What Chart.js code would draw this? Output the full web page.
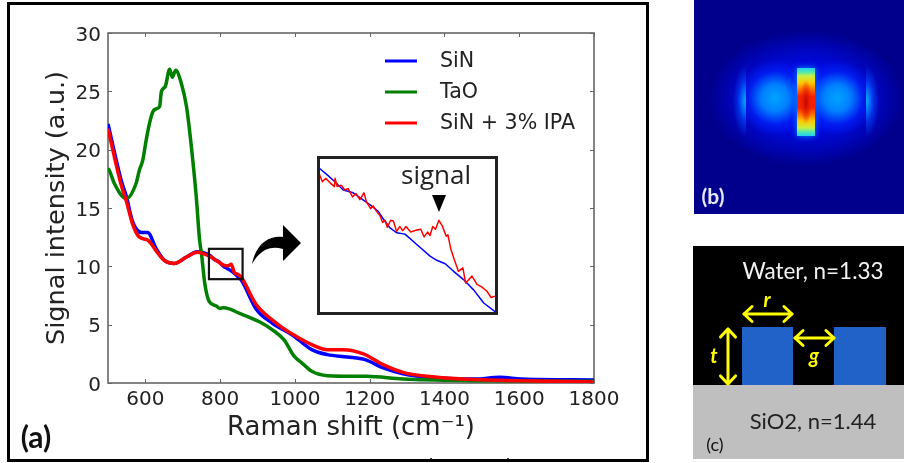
<!DOCTYPE html>
<html lang="en">
<head>
<meta charset="UTF-8">
<title>Raman signal</title>
<script src="https://cdn.jsdelivr.net/npm/chart.js"></script>
<style>
  * { margin:0; padding:0; box-sizing:border-box; }
  body { width:904px; height:463px; background:#fff; position:relative; overflow:hidden; }
  .abs { position:absolute; }
  #frame { left:7px; top:2px; width:642px; height:460px; border:3px solid #000; }
  #insetBox { left:317px; top:156px; width:181px; height:159px; border:3px solid #222; }
  #heat { left:694px; top:0; width:210px; height:214px; background:
    radial-gradient(circle 38px at 81px 98px, #00a4ff 0%, #0080ff 35%, rgba(0,40,255,.6) 70%, rgba(0,30,255,0) 100%),
    radial-gradient(circle 38px at 143px 98px, #00a4ff 0%, #0080ff 35%, rgba(0,40,255,.6) 70%, rgba(0,30,255,0) 100%),
    radial-gradient(ellipse 98px 68px at 112px 98px, #0014f4 0%, #0008dc 50%, #0004b4 78%, rgba(0,0,140,0) 100%),
    #00008c; }
  .sliver { top:66px; width:13px; height:70px; }
  #slivL { left:733px; background:radial-gradient(ellipse 13px 36px at 100% 50%, #00b0ff, rgba(0,80,255,.6) 55%, rgba(0,40,255,0) 100%); }
  #slivR { left:866px; background:radial-gradient(ellipse 13px 36px at 0% 50%, #00b0ff, rgba(0,80,255,.6) 55%, rgba(0,40,255,0) 100%); }
  #bar { left:797px; top:68px; width:18px; height:68px; background:
    radial-gradient(ellipse 6px 22px at 50% 50%, rgba(190,0,0,.85), rgba(230,30,0,.6) 60%, rgba(255,80,0,0) 100%),
    linear-gradient(to bottom, #20d0f0 0%, #50e8b0 6%, #c8f040 12%, #ffc800 22%, #ff7000 32%, #f42000 42%, #f42000 58%, #ff7000 68%, #ffc800 78%, #c8f040 88%, #50e8b0 94%, #20d0f0 100%);
    box-shadow:0 0 6px #0090ff; }
  #overlay { left:0; top:0; }
</style>
</head>
<body>
<div class="abs" id="heat"></div>
<div class="abs sliver" id="slivL"></div>
<div class="abs sliver" id="slivR"></div>
<div class="abs" id="bar"></div>
<canvas class="abs" id="mainChart" width="904" height="463"></canvas>
<canvas class="abs" id="insetChart" style="left:318px;top:157px" width="179" height="157"></canvas>
<div class="abs" id="frame"></div>
<div class="abs" id="insetBox"></div>
<svg class="abs" id="overlay" width="904" height="463" xmlns="http://www.w3.org/2000/svg"></svg>

<script>
// values
const seriesNames = ['SiN', 'TaO', 'SiN + 3% IPA'];
const seriesColors = ['#0000ff', '#007f00', '#ff0000'];

const xTicks = [600, 800, 1000, 1200, 1400, 1600, 1800];
const yTicks = [0, 5, 10, 15, 20, 25, 30];

const sinX = [500, 535, 549, 566, 590, 606, 629, 651, 678, 710, 739, 772.5, 784, 796.6, 809.3, 818.9, 832.4, 845.9, 856.2, 897, 939, 992, 1045, 1087, 1140, 1188, 1236, 1289, 1373, 1480, 1548, 1606, 1800];
const sinY = [22.2, 17.4, 16, 13.8, 12.9, 12.9, 11.5, 10.5, 10.25, 10.8, 11.25, 10.93, 10.61, 10.4, 9.99, 9.82, 9.54, 9.16, 8.84, 6.3, 5.14, 4.14, 2.86, 2.43, 2.23, 2.0, 1.29, 0.8, 0.46, 0.34, 0.49, 0.34, 0.26];

const taoX = [500, 504, 517, 549, 575, 584, 593, 602, 611, 620, 629, 638, 643, 653, 665, 672, 681, 696, 710, 723, 736, 745, 750, 759, 771, 790, 798, 810, 852, 905, 938, 971, 998, 1019, 1045, 1087, 1193, 1289, 1480, 1800];
const taoY = [18.4, 18.2, 17.1, 15.8, 17.1, 18.25, 19.1, 20.8, 22.25, 23.25, 23.5, 23.7, 25, 25.4, 26.9, 26.2, 26.8, 25.7, 23.7, 20.25, 16, 12.25, 11.1, 8.5, 6.97, 6.6, 6.4, 6.45, 5.97, 5.25, 4.6, 3.7, 2.3, 1.7, 1.0, 0.63, 0.57, 0.34, 0.2, 0.14];

const ipaX = [500, 535, 549, 566, 584, 606, 634, 651, 678, 710, 739, 772.5, 784.7, 797, 810.9, 820.8, 829.4, 838.7, 845.1, 856.2, 897, 950, 1003, 1045, 1087, 1130, 1183, 1236, 1289, 1373, 1480, 1800];
const ipaY = [21.8, 17, 15.6, 13.6, 12.5, 12.25, 11.1, 10.5, 10.25, 10.8, 11.2, 10.85, 10.61, 10.34, 10.08, 10.04, 10.17, 9.43, 9.36, 9.07, 6.7, 5.14, 4, 3.29, 2.86, 2.86, 2.5, 1.57, 0.91, 0.51, 0.29, 0.09];

// zoomed part, 772-857 cm-1
const insetXTicks = [780, 790, 800, 810, 820, 830, 840, 850];
const insetYTicks = [9, 9.5, 10, 10.5, 11];

const insetSinX = [772.5, 776.8, 780, 784, 788.7, 791.9, 796.6, 800.6, 803, 806.2, 809.3, 813.3, 818.9, 825.2, 828.4, 832.4, 836.4, 841.1, 845.9, 850.7, 856.2];
const insetSinY = [10.93, 10.82, 10.73, 10.61, 10.57, 10.5, 10.4, 10.3, 10.19, 10.06, 9.99, 9.97, 9.82, 9.65, 9.59, 9.54, 9.43, 9.31, 9.16, 8.97, 8.84];

const insetIpaX = [772.5, 774.1, 775.7, 777.9, 779.8, 780.1, 781.1, 783.1, 784.7, 786.3, 788.4, 790, 791.9, 793.8, 795, 797, 798.2, 799.8, 801.4, 802.7, 803.9, 804.9, 806.5, 807.8, 809.3, 810.9, 812.2, 813.8, 816, 818.9, 820.8, 822.4, 824, 825.2, 826.5, 827.8, 829.4, 831, 832.9, 833.7, 835.1, 836.7, 838.7, 840.8, 842.1, 845.1, 847.5, 849.9, 852.2, 854.2, 856.2];
const insetIpaY = [10.85, 10.73, 10.78, 10.71, 10.66, 10.78, 10.66, 10.68, 10.61, 10.63, 10.51, 10.56, 10.47, 10.57, 10.44, 10.34, 10.38, 10.3, 10.24, 10.14, 10.17, 10.07, 10.17, 10.16, 10.01, 10.08, 10.02, 10.08, 10, 10.03, 10.04, 9.93, 10, 9.95, 10.08, 10.04, 10.17, 10.09, 9.94, 9.96, 9.75, 9.6, 9.43, 9.48, 9.26, 9.36, 9.24, 9.2, 9.14, 9.05, 9.07];

const pairs = (xs, ys) => xs.map((x, i) => ({ x: x, y: ys[i] }));

// matplotlib style box with ticks pointing inward
const boxTicks = {
  id: 'boxTicks',
  beforeDatasetsDraw(chart, args, opts) {
    const { ctx, chartArea: a, scales } = chart;
    const len = opts.len;
    ctx.save();
    ctx.strokeStyle = '#666';
    ctx.lineWidth = 1;
    ctx.beginPath();
    opts.xTicks.forEach(v => {
      const px = Math.round(scales.x.getPixelForValue(v)) + 0.5;
      ctx.moveTo(px, a.top); ctx.lineTo(px, a.top + len);
      ctx.moveTo(px, a.bottom); ctx.lineTo(px, a.bottom - len);
    });
    opts.yTicks.forEach(v => {
      const py = Math.round(scales.y.getPixelForValue(v)) + 0.5;
      ctx.moveTo(a.left, py); ctx.lineTo(a.left + len, py);
      ctx.moveTo(a.right, py); ctx.lineTo(a.right - len, py);
    });
    ctx.stroke();
    if (opts.frame) {
      ctx.lineWidth = 1.6;
      ctx.strokeRect(a.left, a.top, a.right - a.left, a.bottom - a.top);
    }
    ctx.restore();
  }
};

// the black box around the region that is zoomed
const zoomBox = {
  id: 'zoomBox',
  afterDatasetsDraw(chart, args, opts) {
    if (!opts.x) return;
    const { ctx, scales } = chart;
    const x0 = scales.x.getPixelForValue(opts.x[0]), x1 = scales.x.getPixelForValue(opts.x[1]);
    const y0 = scales.y.getPixelForValue(opts.y[1]), y1 = scales.y.getPixelForValue(opts.y[0]);
    ctx.save();
    ctx.strokeStyle = '#111';
    ctx.lineWidth = 2.2;
    ctx.strokeRect(x0, y0, x1 - x0, y1 - y0);
    ctx.restore();
  }
};

// lower order is drawn on top, red has to end up over the others
const line = (label, color, data, width, smooth, order) => ({
  label, data, borderColor: color, borderWidth: width, pointRadius: 0,
  cubicInterpolationMode: smooth ? 'monotone' : 'default', tension: 0,
  borderJoinStyle: 'round', fill: false, order
});

new Chart(document.getElementById('mainChart'), {
  type: 'line',
  data: { datasets: [
    line(seriesNames[0], seriesColors[0], pairs(sinX, sinY), 3.5, true, 2),
    line(seriesNames[1], seriesColors[1], pairs(taoX, taoY), 3.5, true, 1),
    line(seriesNames[2], seriesColors[2], pairs(ipaX, ipaY), 3.5, true, 0)
  ] },
  options: {
    responsive: false, animation: false, parsing: false,
    layout: { padding: { top: 33, right: 310, left: 0, bottom: 0 } },
    plugins: {
      legend: { display: false }, tooltip: { enabled: false },
      boxTicks: { len: 4, frame: true, xTicks: xTicks, yTicks: yTicks },
      zoomBox: { x: [770, 860], y: [8.9, 11.5] }
    },
    scales: {
      x: {
        type: 'linear', min: 500, max: 1800,
        afterFit: s => { s.height = 80; },
        afterBuildTicks: s => { s.ticks = xTicks.map(v => ({ value: v })); },
        grid: { display: false, drawTicks: false }, border: { display: false },
        ticks: { color: '#222', font: { family: 'DejaVu Sans', size: 20 }, padding: 5, maxRotation: 0, autoSkip: false, callback: v => String(v) },
        title: { display: true, text: 'Raman shift (cm\u207B\u00B9)', color: '#222', font: { family: 'DejaVu Sans', size: 26 }, padding: { bottom: 19, top: 0 } }
      },
      y: {
        min: 0, max: 30,
        afterFit: s => { s.width = 108; },
        afterBuildTicks: s => { s.ticks = yTicks.map(v => ({ value: v })); },
        grid: { display: false, drawTicks: false }, border: { display: false },
        // empty first line pushes the number down a bit, it sat too high on the tick
        ticks: { color: '#222', font: { family: 'DejaVu Sans', size: 20, lineHeight: 0.25 }, padding: 7, callback: v => ['', String(v)] },
        title: { display: true, text: 'Signal intensity (a.u.)', color: '#222', font: { family: 'DejaVu Sans', size: 25.6 }, padding: { top: 42, bottom: 0 } }
      }
    }
  },
  plugins: [boxTicks, zoomBox]
});

new Chart(document.getElementById('insetChart'), {
  type: 'line',
  data: { datasets: [
    line(seriesNames[0], seriesColors[0], pairs(insetSinX, insetSinY), 1.5, false, 1),
    line(seriesNames[2], seriesColors[2], pairs(insetIpaX, insetIpaY), 1.5, false, 0)
  ] },
  options: {
    responsive: false, animation: false, parsing: false,
    plugins: {
      legend: { display: false }, tooltip: { enabled: false },
      boxTicks: { len: 2, frame: false, xTicks: insetXTicks, yTicks: insetYTicks }
    },
    scales: {
      x: { type: 'linear', min: 772, max: 857, display: true, afterFit: s => { s.height = 0; }, grid: { display: false }, border: { display: false }, ticks: { display: false } },
      y: { min: 8.81, max: 11.09, display: true, afterFit: s => { s.width = 0; }, grid: { display: false }, border: { display: false }, ticks: { display: false } }
    }
  },
  plugins: [boxTicks]
});

// legend, annotations and panel (c) go in one svg
const NS = 'http://www.w3.org/2000/svg';
const svg = document.getElementById('overlay');
function add(tag, attrs, text) {
  const el = document.createElementNS(NS, tag);
  Object.keys(attrs).forEach(k => el.setAttribute(k, attrs[k]));
  if (text) el.textContent = text;
  svg.appendChild(el);
}
function label(x, y, text, o) {
  add('text', Object.assign({ x, y, 'dominant-baseline': 'middle', 'text-anchor': 'middle', 'font-family': 'Lato', fill: '#222', 'font-size': 22 }, o || {}), text);
}
function yellowArrow(x1, y1, x2, y2) {
  add('line', { x1, y1, x2, y2, stroke: '#ffff00', 'stroke-width': 3 });
  const ang = Math.atan2(y2 - y1, x2 - x1);
  [[x1, y1, ang], [x2, y2, ang + Math.PI]].forEach(p => {
    [0.75, -0.75].forEach(d => {
      add('line', { x1: p[0], y1: p[1], x2: p[0] + 11 * Math.cos(p[2] + d), y2: p[1] + 11 * Math.sin(p[2] + d), stroke: '#ffff00', 'stroke-width': 3, 'stroke-linecap': 'round' });
    });
  });
}

const legendY = [61, 92, 123];
seriesNames.forEach((name, i) => {
  add('line', { x1: 385, x2: 417, y1: legendY[i], y2: legendY[i], stroke: seriesColors[i], 'stroke-width': 3 });
  label(440, legendY[i], name, { 'text-anchor': 'start', 'font-family': 'DejaVu Sans', 'font-size': 20.6 });
});

label(36, 440, '(a)', { 'font-weight': 'bold', 'font-size': 30, fill: '#111' });
label(436, 177, 'signal', { 'font-family': 'Open Sans', 'font-size': 26 });
add('polygon', { points: '432,195 446,195 439,212', fill: '#000' });
add('path', { d: 'M252,264 C256,243 270,235 283,237 L283,225 L301,243 L283,261 L283,249 C270,245 260,250 252,264 Z', fill: '#000' });
add('line', { x1: 431, x2: 431, y1: 458, y2: 461, stroke: '#000', 'stroke-width': 1.5 });
add('line', { x1: 508, x2: 508, y1: 458, y2: 461, stroke: '#000', 'stroke-width': 1.5 });

// panel (b) label
label(713, 199, '(b)', { 'font-weight': 'bold', 'font-size': 21, fill: '#e8e8ff' });

// panel (c)
add('rect', { x: 693, y: 246, width: 211, height: 139, fill: '#000' });
add('rect', { x: 693, y: 385, width: 211, height: 74, fill: '#bfbfbf' });
add('rect', { x: 742, y: 327, width: 51, height: 58, fill: '#2062c8' });
add('rect', { x: 834, y: 327, width: 52, height: 58, fill: '#2062c8' });
yellowArrow(744, 314, 792, 314);
yellowArrow(728, 329, 728, 384);
yellowArrow(795, 338, 834, 338);
label(813, 273, 'Water, n=1.33', { fill: '#f2f2f2', 'font-size': 22.5 });
label(813, 423, 'SiO2, n=1.44', { fill: '#222' });
label(715, 446, '(c)', { 'font-size': 18, fill: '#111' });
label(767, 302, 'r', { fill: '#ffff00', 'font-style': 'italic', 'font-weight': 'bold', 'font-size': 20 });
label(714, 358, 't', { fill: '#ffff00', 'font-style': 'italic', 'font-weight': 'bold', 'font-size': 20 });
label(814, 358, 'g', { fill: '#ffff00', 'font-style': 'italic', 'font-weight': 'bold', 'font-size': 20 });
</script>
</body>
</html>
